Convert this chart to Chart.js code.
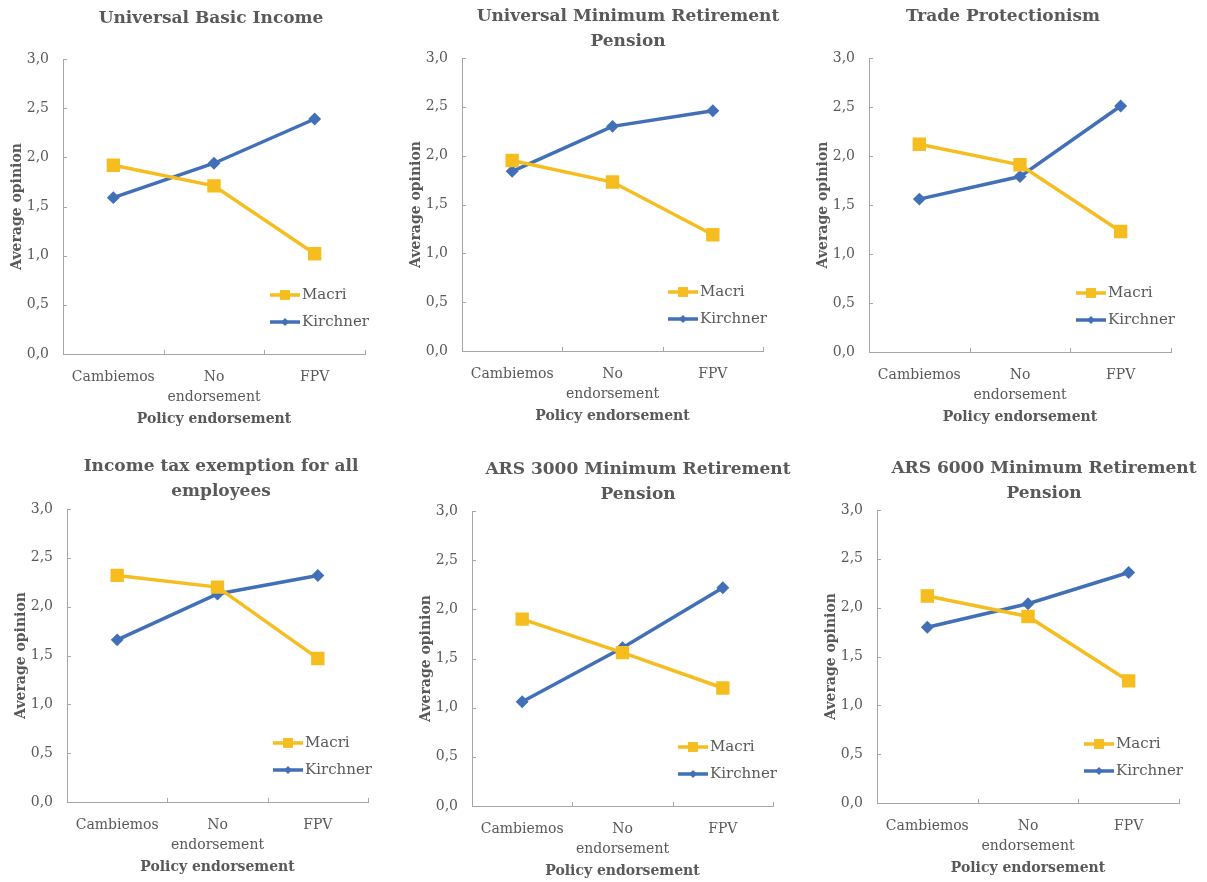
<!DOCTYPE html>
<html>
<head>
<meta charset="utf-8">
<script src="https://cdn.jsdelivr.net/npm/chart.js@4.4.1/dist/chart.umd.min.js"></script>
<style>
    html, body { margin: 0; padding: 0; background: #fff; }
    body { width: 1207px; height: 882px; position: relative; overflow: hidden; }
    canvas { position: absolute; }
</style>
</head>
<body>
<script>
// ===================================
// Data
// ===================================
const categories = ['Cambiemos', ['No', 'endorsement'], 'FPV'];
const titles = [
    ['Universal Basic Income'],
    ['Universal Minimum Retirement', 'Pension'],
    ['Trade Protectionism'],
    ['Income tax exemption for all', 'employees'],
    ['ARS 3000 Minimum Retirement', 'Pension'],
    ['ARS 6000 Minimum Retirement', 'Pension']
];
const macri = [
    [1.92, 1.71, 1.02],
    [1.95, 1.73, 1.19],
    [2.12, 1.91, 1.23],
    [2.32, 2.20, 1.47],
    [1.90, 1.56, 1.20],
    [2.12, 1.91, 1.25]
];
const kirchner = [
    [1.59, 1.94, 2.39],
    [1.84, 2.30, 2.46],
    [1.56, 1.79, 2.51],
    [1.66, 2.13, 2.32],
    [1.06, 1.61, 2.22],
    [1.80, 2.04, 2.36]
];
const yTicks = [0, 0.5, 1, 1.5, 2, 2.5, 3];

// ===================================
// Layout (plot area and title centre of each panel, page pixels)
// ===================================
const frames = [
    { l: 63,  t: 59,  r: 365,  b: 354, tx: 211,  ty: 19 },
    { l: 462, t: 58,  r: 763,  b: 351, tx: 628,  ty: 17 },
    { l: 869, t: 58,  r: 1171, b: 352, tx: 1003, ty: 17 },
    { l: 67,  t: 509, r: 368,  b: 802, tx: 221,  ty: 467 },
    { l: 472, t: 511, r: 773,  b: 806, tx: 638,  ty: 470 },
    { l: 877, t: 510, r: 1179, b: 803, tx: 1044, ty: 469 }
];
const PAD_LEFT = 60, PAD_TOP = 60, PAD_RIGHT = 45, PAD_BOTTOM = 80;

const GREY = '#595959';
const AXIS = '#a6a6a6';
const FONT = "'DejaVu Serif', serif";

Chart.defaults.font.family = FONT;
Chart.defaults.color = GREY;

// chart title, placed freely like the original
const panelTitle = {
    id: 'panelTitle',
    afterDraw(chart, args, opts) {
        const ctx = chart.ctx;
        ctx.save();
        ctx.fillStyle = GREY;
        ctx.font = 'bold 17px ' + FONT;
        ctx.textAlign = 'center';
        ctx.textBaseline = 'middle';
        opts.text.forEach((line, i) => ctx.fillText(line, opts.x, opts.y + i * 25));
        ctx.restore();
    }
};

// small tick marks drawn inside the plot
const innerTicks = {
    id: 'innerTicks',
    beforeDatasetsDraw(chart) {
        const { ctx, chartArea, scales } = chart;
        ctx.save();
        ctx.strokeStyle = AXIS;
        ctx.lineWidth = 1;
        ctx.beginPath();
        scales.y.ticks.forEach(t => {
            const y = Math.round(scales.y.getPixelForValue(t.value)) + 0.5;
            ctx.moveTo(chartArea.left, y);
            ctx.lineTo(chartArea.left + 4, y);
        });
        for (let k = 1; k <= categories.length; k++) {
            const x = Math.round(scales.x.getPixelForValue(k - 0.5)) + 0.5;
            ctx.moveTo(x, chartArea.bottom);
            ctx.lineTo(x, chartArea.bottom - 4);
        }
        ctx.stroke();
        ctx.restore();
    }
};

// legend inside the plot, bottom right
const innerLegend = {
    id: 'innerLegend',
    afterDatasetsDraw(chart) {
        const { ctx, chartArea } = chart;
        ctx.save();
        chart.data.datasets.forEach((ds, i) => {
            const y = chartArea.bottom - 59 + i * 27;
            const x0 = chartArea.right - 95;
            ctx.strokeStyle = ds.borderColor;
            ctx.lineWidth = ds.borderWidth;
            ctx.beginPath();
            ctx.moveTo(x0, y);
            ctx.lineTo(x0 + 30, y);
            ctx.stroke();
            ctx.fillStyle = ds.backgroundColor;
            const cx = x0 + 15, r = ds.pointRadius;
            ctx.beginPath();
            if (ds.pointStyle === 'rect') {
                const s = Math.SQRT1_2 * r;
                ctx.rect(cx - s, y - s, 2 * s, 2 * s);
            } else {
                ctx.moveTo(cx - r, y);
                ctx.lineTo(cx, y - r);
                ctx.lineTo(cx + r, y);
                ctx.lineTo(cx, y + r);
                ctx.closePath();
            }
            ctx.fill();
            ctx.fillStyle = GREY;
            ctx.font = '15px ' + FONT;
            ctx.textAlign = 'left';
            ctx.textBaseline = 'middle';
            ctx.fillText(ds.label, x0 + 32, y);
        });
        ctx.restore();
    }
};

function makePanel(i) {
    const f = frames[i];
    const left = f.l - PAD_LEFT, top = f.t - PAD_TOP;
    const width = f.r + PAD_RIGHT - left, height = f.b + PAD_BOTTOM - top;

    const canvas = document.createElement('canvas');
    canvas.width = width;
    canvas.height = height;
    canvas.style.left = left + 'px';
    canvas.style.top = top + 'px';
    canvas.style.width = width + 'px';
    canvas.style.height = height + 'px';
    document.body.appendChild(canvas);

    new Chart(canvas, {
        type: 'line',
        data: {
            labels: categories,
            datasets: [{
                label: 'Macri',
                data: macri[i],
                borderColor: '#f5bd1f',
                backgroundColor: '#f5bd1f',
                borderWidth: 3.5,
                pointStyle: 'rect',
                pointRadius: 7,
                pointHoverRadius: 7
            }, {
                label: 'Kirchner',
                data: kirchner[i],
                borderColor: '#4170b8',
                backgroundColor: '#4170b8',
                borderWidth: 3.5,
                pointStyle: 'rectRot',
                pointRadius: 4,
                pointHoverRadius: 4
            }]
        },
        options: {
            responsive: false,
            animation: false,
            devicePixelRatio: 1,
            layout: { padding: { left: 0, top: PAD_TOP, right: PAD_RIGHT, bottom: 0 } },
            plugins: {
                legend: { display: false },
                tooltip: { enabled: false },
                panelTitle: { text: titles[i], x: f.tx - left, y: f.ty - top }
            },
            scales: {
                x: {
                    offset: true,
                    grid: { display: false, drawTicks: false, tickLength: 0 },
                    border: { display: true, color: AXIS, width: 1 },
                    ticks: { font: { size: 14, lineHeight: 1.38 }, color: GREY, padding: 14, maxRotation: 0 },
                    title: {
                        display: true, text: 'Policy endorsement', color: GREY,
                        font: { size: 14, weight: 'bold' }, padding: { top: 0, bottom: 6.6 }
                    },
                    afterFit(scale) { scale.height = PAD_BOTTOM; }
                },
                y: {
                    min: yTicks[0],
                    max: yTicks[yTicks.length - 1],
                    grid: { display: false, drawTicks: false, tickLength: 0 },
                    border: { display: true, color: AXIS, width: 1 },
                    ticks: {
                        stepSize: yTicks[1] - yTicks[0],
                        font: { size: 14 }, color: GREY, padding: 14,
                        callback: v => v.toFixed(1).replace('.', ',')
                    },
                    title: {
                        display: true, text: 'Average opinion', color: GREY,
                        font: { size: 14, weight: 'bold' }, padding: { top: 5.6, bottom: 0 }
                    },
                    afterFit(scale) { scale.width = PAD_LEFT; }
                }
            }
        },
        plugins: [panelTitle, innerTicks, innerLegend]
    });
}

for (let i = 0; i < frames.length; i++) makePanel(i);
</script>
</body>
</html>
